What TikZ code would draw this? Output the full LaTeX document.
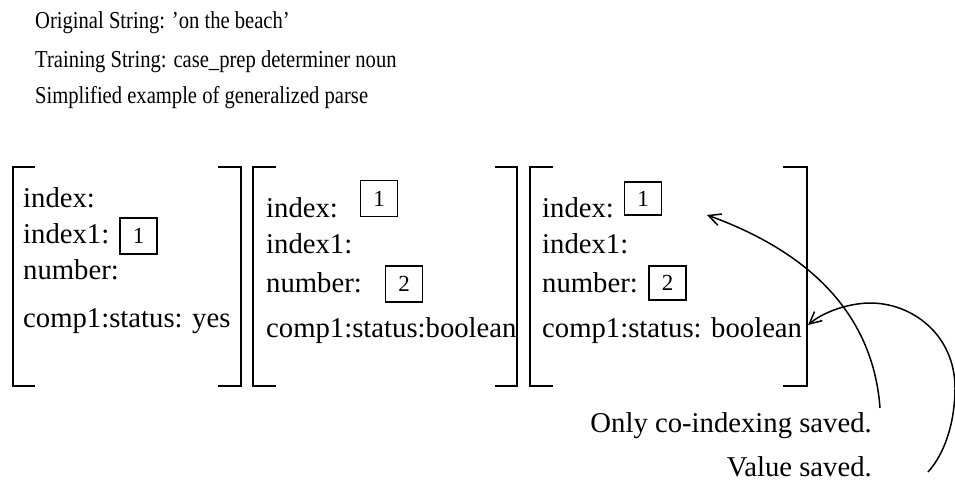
\documentclass[tikz,border=0pt]{standalone}
\usepackage{fontspec}
\setmainfont{Liberation Serif}
\usetikzlibrary{arrows.meta}
\newcommand{\tallish}[1]{\scalebox{1}[1.18]{#1}}
\begin{document}
\begin{tikzpicture}[x=1pt,y=-1pt,
  title/.style={anchor=base west,inner sep=0pt,font=\fontsize{20.6}{24}\selectfont},
  feat/.style={anchor=base west,inner sep=0pt,font=\fontsize{28.7}{32}\selectfont},
  idx/.style={draw,line width=1.3pt,minimum width=37pt,minimum height=36pt,inner sep=0pt,font=\fontsize{23}{26}\selectfont},
  brk/.style={line width=2pt},
  curve/.style={line width=1.5pt,-{Straight Barb[length=12pt,width=12pt,line width=1.5pt]}},
  note/.style={anchor=base east,inner sep=0pt,font=\fontsize{28.7}{32}\selectfont}]
\useasboundingbox (0,0) rectangle (955,484);
% titles
\node[title] (t1) at (35,29) {\tallish{Original String: 'on the beach'}};
\node[title] (t2) at (35,68) {\tallish{Training String: case\_prep determiner noun}};
\node[title] (t3) at (35,103) {\tallish{Simplified example of generalized parse}};
% brackets
\draw[brk] (35,167) -- (13,167) -- (13,386) -- (35,386);
\draw[brk] (218,167) -- (241,167) -- (241,386) -- (218,386);
\draw[brk] (276,167) -- (253,167) -- (253,386) -- (276,386);
\draw[brk] (495,167) -- (517,167) -- (517,386) -- (495,386);
\draw[brk] (553,167) -- (530,167) -- (530,386) -- (553,386);
\draw[brk] (783,167) -- (807,167) -- (807,386) -- (783,386);
% structure 1
\node[feat] (a1) at (23,207) {index:};
\node[feat] (a2) at (23,243) {index1:};
\node[feat] (a3) at (23,279) {number:};
\node[feat] (a4) at (23,327) {comp1:status: yes};
\node[idx] (ab1) at (138.5,236) {1};
% structure 2
\node[feat] (b1) at (266,217) {index:};
\node[feat] (b2) at (266,253) {index1:};
\node[feat] (b3) at (266,292) {number:};
\node[feat] (b4) at (266,337) {comp1:status:boolean};
\node[idx] (bb1) at (379,198.5) {1};
\node[idx] (bb2) at (404,284) {2};
% structure 3
\node[feat] (c1) at (542,217) {index:};
\node[feat] (c2) at (542,253) {index1:};
\node[feat] (c3) at (542,292) {number:};
\node[feat] (c4) at (542,337) {comp1:status: boolean};
\node[idx,minimum height=33pt] (cb1) at (643,198.5) {1};
\node[idx,minimum height=34pt] (cb2) at (667.5,283) {2};
% notes
\node[note] (n1) at (872,432) {Only co-indexing saved.};
\node[note] (n2) at (872,476) {Value saved.};
% arrows
\coordinate (s1) at (880,408);
\coordinate (e1) at (707,215);
\coordinate (s2) at (928,472);
\coordinate (m2) at (955,388);
\coordinate (m3) at (868,303);
\coordinate (e2) at (808,325);
\draw[curve] (s1) .. controls (872,300) and (790,245) .. (e1);
\draw[curve] (s2) .. controls (946,452) and (955,420) .. (m2)
  .. controls (955,335) and (912,302) .. (m3)
  .. controls (845,304) and (822,313) .. (e2);
\end{tikzpicture}
\end{document}
